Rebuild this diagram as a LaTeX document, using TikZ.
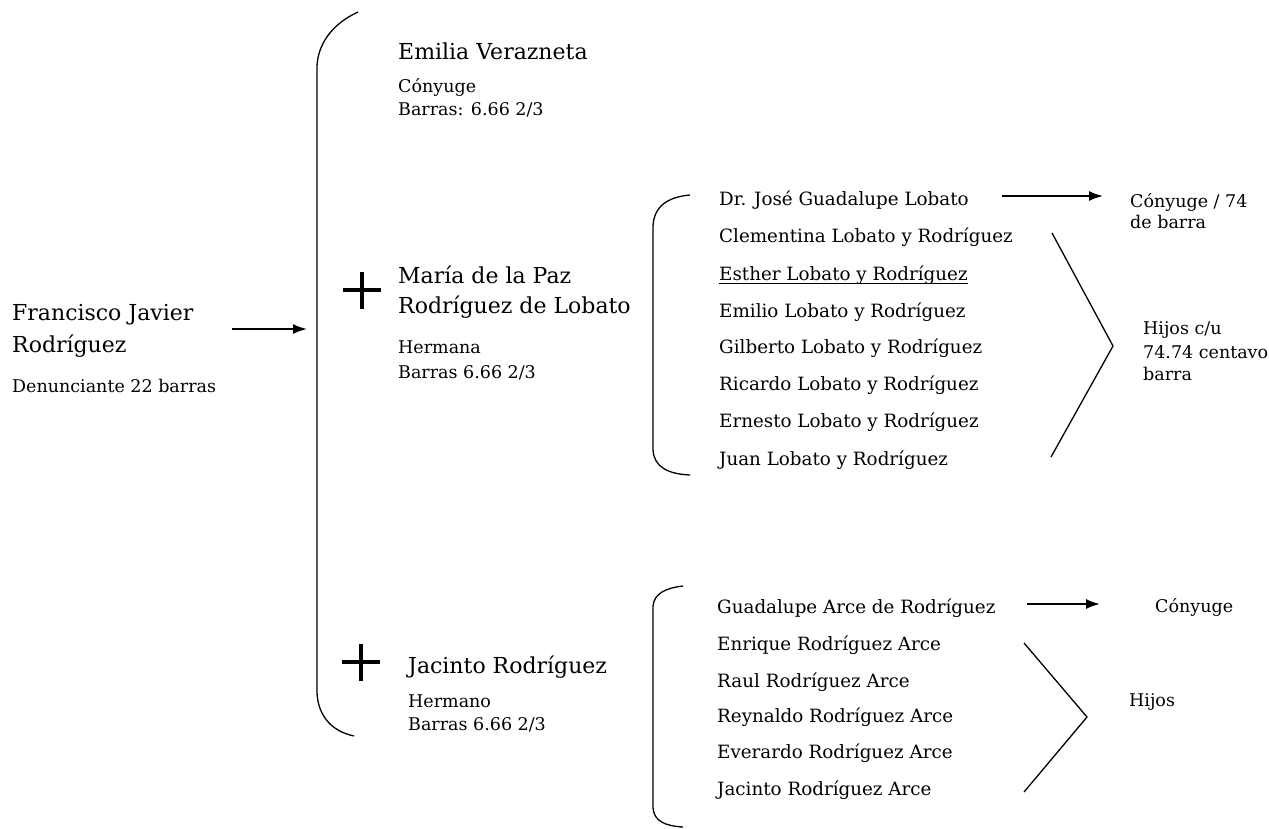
\documentclass[tikz,border=0pt]{standalone}
\usepackage{fontspec}
\setmainfont{DejaVu Serif}
\usetikzlibrary{arrows.meta}
\tikzset{
  txtS/.style={anchor=base west,inner sep=0pt,font=\fontsize{17.5}{20}\selectfont},
  nameS/.style={anchor=base west,inner sep=0pt,font=\fontsize{18.3}{22}\selectfont},
  bigS/.style={anchor=base west,inner sep=0pt,font=\fontsize{22}{26}\selectfont},
  brkS/.style={line width=1.3pt},
  arrS/.style={line width=1.8pt,-{Latex[length=14pt,width=10pt]}},
  plusS/.style={line width=4pt}}
\begin{document}
\begin{tikzpicture}[x=1pt,y=-1pt]
\useasboundingbox (0,0) rectangle (1269,828);

% Root
\node[bigS] (fj1) at (12,320) {Francisco Javier};
\node[bigS] (fj2) at (12,352) {Rodríguez};
\node[txtS] (fj3) at (12,392) {Denunciante 22 barras};
\coordinate (a1s) at (232,329);
\coordinate (a1e) at (307,329);
\draw[arrS] (a1s) -- (a1e);

% big bracket
\draw[brkS] (358,12) .. controls (332,24) and (318,44) .. (317,66) -- (317,693) .. controls (318,714) and (330,731) .. (354,736);

% Emilia
\node[bigS] (em1) at (398,59) {Emilia Verazneta};
\node[txtS] (em2) at (398,92) {Cónyuge};
\node[txtS] (em3) at (398,115) {Barras: 6.66 2/3};

% Maria
\draw[plusS] (343,290) -- (381,290);
\draw[plusS] (362,272) -- (362,309);
\node[bigS] (mp1) at (398,283) {María de la Paz};
\node[bigS] (mp2) at (398,313) {Rodríguez de Lobato};
\node[txtS] (mp3) at (398,353) {Hermana};
\node[txtS] (mp4) at (398,378) {Barras 6.66 2/3};

% Jacinto
\draw[plusS] (342,662) -- (380,662);
\draw[plusS] (361,644) -- (361,681);
\node[bigS] (jr1) at (408,673) {Jacinto Rodríguez};
\node[txtS] (jr2) at (408,707) {Hermano};
\node[txtS] (jr3) at (408,730) {Barras 6.66 2/3};

% Lobato group
\draw[brkS] (690,195) .. controls (668,197) and (654,206) .. (653,226) -- (653,450) .. controls (654,467) and (668,474) .. (690,475);
\node[nameS] (l1) at (719,205) {Dr. José Guadalupe Lobato};
\node[nameS] (l2) at (719,242) {Clementina Lobato y Rodríguez};
\node[nameS] (l3) at (719,280) {Esther Lobato y Rodríguez};
\node[nameS] (l4) at (719,317) {Emilio Lobato y Rodríguez};
\node[nameS] (l5) at (719,353) {Gilberto Lobato y Rodríguez};
\node[nameS] (l6) at (719,390) {Ricardo Lobato y Rodríguez};
\node[nameS] (l7) at (719,427) {Ernesto Lobato y Rodríguez};
\node[nameS] (l8) at (719,465) {Juan Lobato y Rodríguez};
\draw[line width=0.8pt] ([yshift=-3pt]l3.base west) -- ([yshift=-3pt]l3.base east);
\coordinate (a2s) at (1002,196);
\coordinate (a2e) at (1103,196);
\draw[arrS] (a2s) -- (a2e);
\node[txtS] (c1) at (1130,207) {Cónyuge / 74};
\node[txtS] (c2) at (1130,228) {de barra};
\draw[brkS] (1052,233) -- (1113,346) -- (1051,457);
\node[txtS] (h1) at (1143,334) {Hijos c/u};
\node[txtS] (h2) at (1143,358) {74.74 centavo};
\node[txtS] (h3) at (1143,380) {barra};

% Arce group
\draw[brkS] (683,586) .. controls (665,588) and (654,594) .. (653,606) -- (653,808) .. controls (654,821) and (665,826) .. (683,827);
\node[nameS] (r1) at (717,613) {Guadalupe Arce de Rodríguez};
\node[nameS] (r2) at (717,650) {Enrique Rodríguez Arce};
\node[nameS] (r3) at (717,687) {Raul Rodríguez Arce};
\node[nameS] (r4) at (717,722) {Reynaldo Rodríguez Arce};
\node[nameS] (r5) at (717,758) {Everardo Rodríguez Arce};
\node[nameS] (r6) at (717,795) {Jacinto Rodríguez Arce};
\coordinate (a3s) at (1027,604);
\coordinate (a3e) at (1100,604);
\draw[arrS] (a3s) -- (a3e);
\node[txtS] (c3) at (1155,612) {Cónyuge};
\draw[brkS] (1024,643) -- (1087,717) -- (1024,792);
\node[txtS] (h4) at (1129,706) {Hijos};
\end{tikzpicture}
\end{document}
